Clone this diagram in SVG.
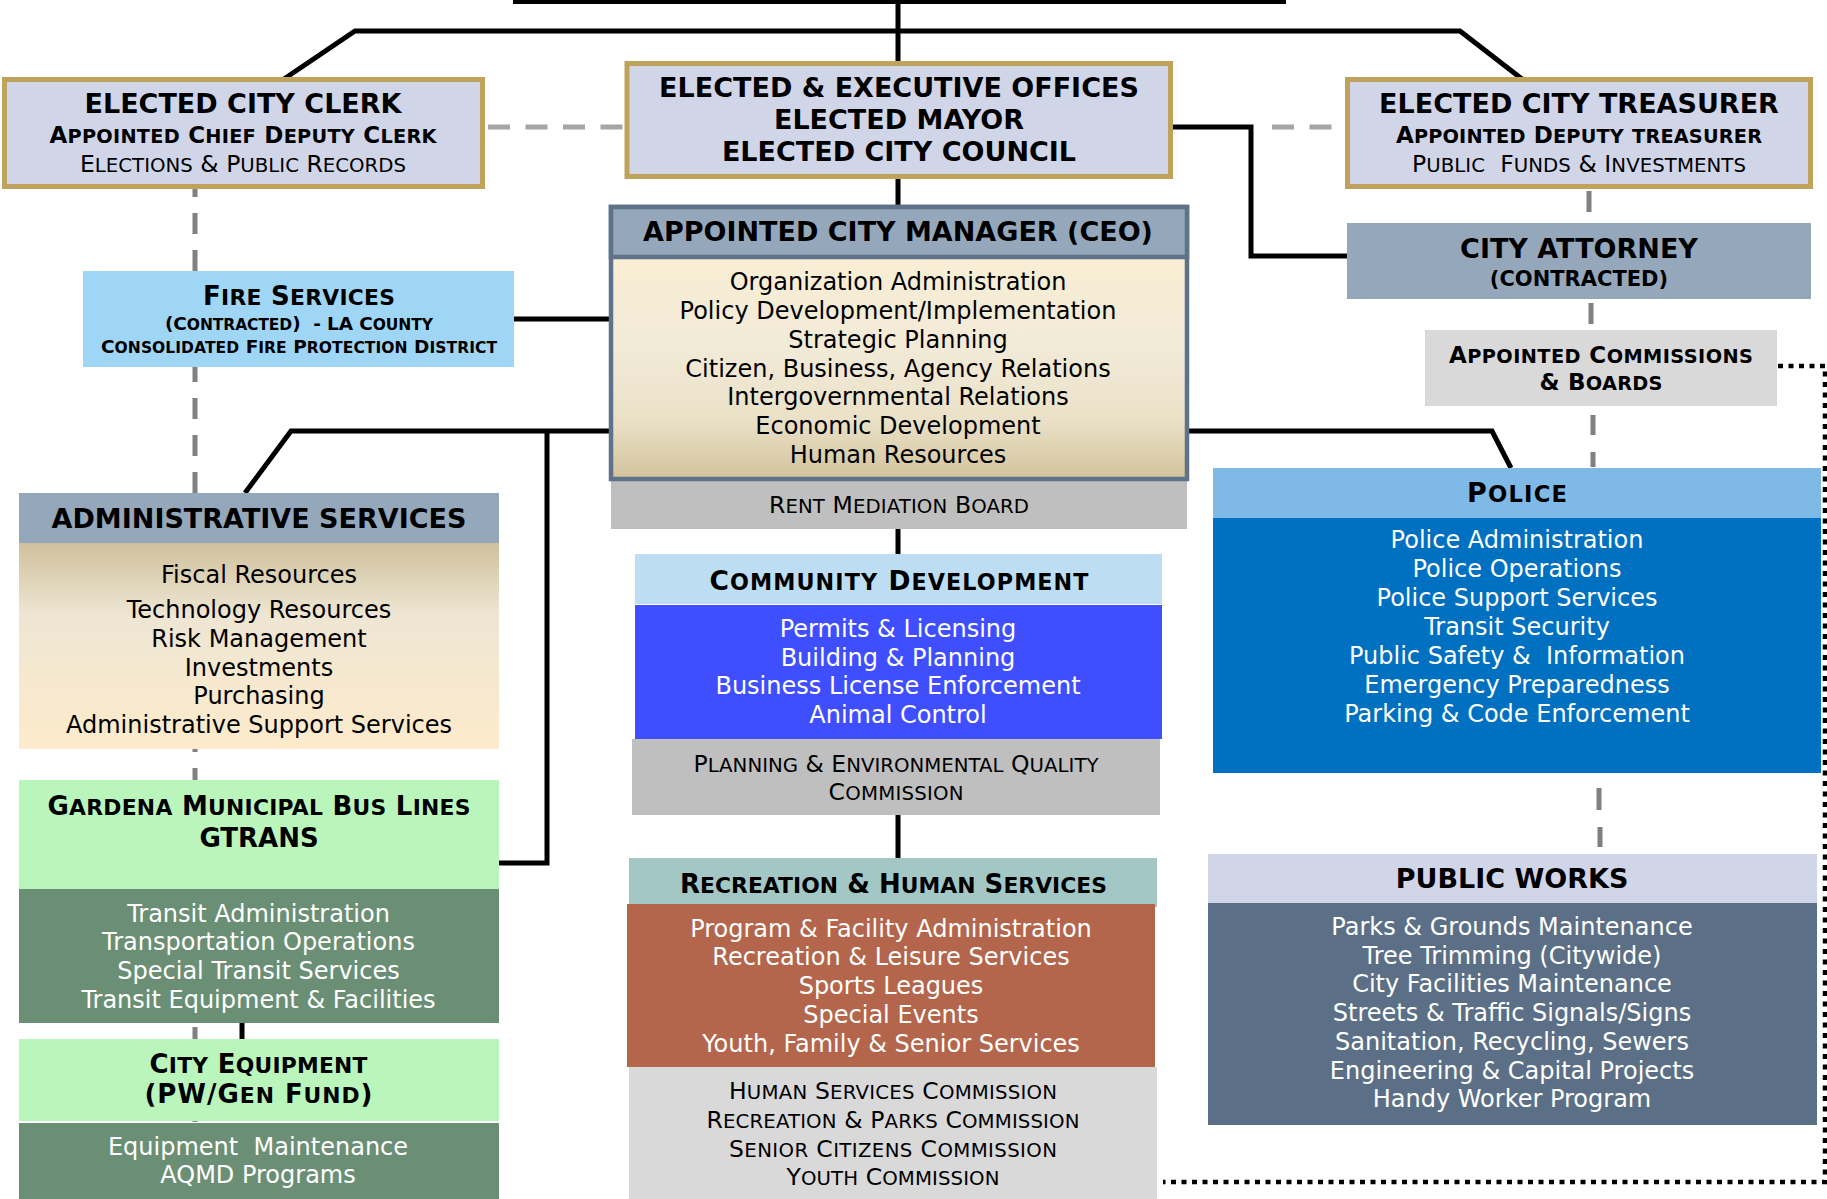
<svg xmlns="http://www.w3.org/2000/svg" width="1827" height="1199" viewBox="0 0 1827 1199">
<defs>
<linearGradient id="gCeo" x1="0" y1="0" x2="0" y2="1">
<stop offset="0" stop-color="#FDEFD2"/>
<stop offset="0.5" stop-color="#F2EBD8"/>
<stop offset="0.78" stop-color="#EAE1C8"/>
<stop offset="1" stop-color="#D3C39C"/>
</linearGradient>
<linearGradient id="gAdm" x1="0" y1="0" x2="0" y2="1">
<stop offset="0" stop-color="#CFC19D"/>
<stop offset="0.35" stop-color="#EEE6D3"/>
<stop offset="1" stop-color="#FDEBCB"/>
</linearGradient>
<style>
text{font-family:"DejaVu Sans",Verdana,sans-serif;text-anchor:middle;fill:#000}
.b{font-weight:bold}
.h{font-size:27px;font-weight:bold}
.i{font-size:24px}
.w{fill:#fff}
.s{font-size:0.84em}
.sb{font-size:23px;font-weight:bold}
.sr{font-size:23.5px}
.st{font-size:26px;font-weight:bold}
.k{fill:none;stroke:#000;stroke-width:5}
.gd{fill:none;stroke:#808080;stroke-width:5}
.gl{fill:none;stroke:#A6A6A6;stroke-width:5;stroke-dasharray:22 15.5}
.dot{fill:none;stroke:#000;stroke-width:4.5;stroke-dasharray:5 5.5}
.gold{stroke:#BFA35C;stroke-width:5}
</style>
</defs>
<rect width="1827" height="1199" fill="#fff"/>

<g id="connectors">
<path class="k" d="M513,1.5 H1286" stroke-width="4"/>
<path class="k" d="M898,0 V63"/>
<path class="k" d="M284,79 L355,31 H1460 L1522,79"/>
<path class="k" d="M898,177 V207"/>
<path class="k" d="M514,319 H611"/>
<path class="k" d="M1173,127 H1251 V256 H1347"/>
<path class="k" d="M245,493 L291,431 H1492 L1511,468"/>
<path class="k" d="M547,431 V863 H499"/>
<path class="k" d="M898,470 V554"/>
<path class="k" d="M898,815 V858"/>
<path class="k" d="M242,1023 V1039"/>
<path class="gl" d="M488,127 H624"/>
<path class="gl" d="M1272,127 H1345"/>
<path class="gd" d="M195,176 V1199" stroke-dasharray="21 16"/>
<path class="gd" d="M1589,191 V212 M1591,303 V324 M1593,415 V435 M1593,452 V467 M1599,788 V810 M1600,827 V847"/>
<path class="dot" d="M1778,366 H1825 V1182 H1163"/>
</g>

<g id="clerk">
<rect x="4.5" y="79.5" width="478" height="107" fill="#D0D5E8" class="gold"/>
<text x="243" y="113" class="h">ELECTED CITY CLERK</text>
<text x="243" y="143" class="sb" textLength="387" lengthAdjust="spacing">A<tspan class="s">PPOINTED</tspan> C<tspan class="s">HIEF</tspan> D<tspan class="s">EPUTY</tspan> C<tspan class="s">LERK</tspan></text>
<text x="243" y="172" class="sr" textLength="326" lengthAdjust="spacing">E<tspan class="s">LECTIONS</tspan> &amp; P<tspan class="s">UBLIC</tspan> R<tspan class="s">ECORDS</tspan></text>
</g>

<g id="executive">
<rect x="627" y="63.5" width="543.5" height="113" fill="#D0D5E8" class="gold"/>
<text x="899" y="97" class="h">ELECTED &amp; EXECUTIVE OFFICES</text>
<text x="899" y="129" class="h">ELECTED MAYOR</text>
<text x="899" y="161" class="h">ELECTED CITY COUNCIL</text>
</g>

<g id="treasurer">
<rect x="1347.5" y="79.5" width="463" height="107" fill="#D0D5E8" class="gold"/>
<text x="1579" y="113" class="h">ELECTED CITY TREASURER</text>
<text x="1579" y="143" class="sb" textLength="366" lengthAdjust="spacing">A<tspan class="s">PPOINTED</tspan> D<tspan class="s">EPUTY</tspan> <tspan class="s">TREASURER</tspan></text>
<text x="1579" y="172" class="sr" textLength="334" lengthAdjust="spacing" xml:space="preserve">P<tspan class="s">UBLIC</tspan>  F<tspan class="s">UNDS</tspan> &amp; I<tspan class="s">NVESTMENTS</tspan></text>
</g>

<g id="rent-mediation-board">
<rect x="611" y="470" width="576" height="59" fill="#BFBFBF"/>
<text x="899" y="513" class="sr" textLength="260" lengthAdjust="spacing">R<tspan class="s">ENT</tspan> M<tspan class="s">EDIATION</tspan> B<tspan class="s">OARD</tspan></text>
</g>

<g id="city-manager">
<rect x="611" y="207" width="576" height="272" fill="url(#gCeo)" stroke="#5E7289" stroke-width="4.5"/>
<rect x="611" y="207" width="576" height="50" fill="#95A8BB" stroke="#5E7289" stroke-width="4.5"/>
<text x="898" y="241" class="h">APPOINTED CITY MANAGER (CEO)</text>
<text x="898" y="290" class="i">Organization Administration</text>
<text x="898" y="319" class="i">Policy Development/Implementation</text>
<text x="898" y="348" class="i">Strategic Planning</text>
<text x="898" y="377" class="i">Citizen, Business, Agency Relations</text>
<text x="898" y="405" class="i">Intergovernmental Relations</text>
<text x="898" y="434" class="i">Economic Development</text>
<text x="898" y="463" class="i">Human Resources</text>
</g>

<g id="fire-services">
<rect x="83" y="271" width="431" height="96" fill="#A0D6F5"/>
<text x="299" y="305" class="st" textLength="192" lengthAdjust="spacing">F<tspan class="s">IRE</tspan> S<tspan class="s">ERVICES</tspan></text>
<text x="299" y="330" class="b" font-size="18.5" textLength="268" lengthAdjust="spacing" xml:space="preserve">(C<tspan class="s">ONTRACTED</tspan>)  - LA C<tspan class="s">OUNTY</tspan></text>
<text x="299" y="353" class="b" font-size="18.5" textLength="396" lengthAdjust="spacing">C<tspan class="s">ONSOLIDATED</tspan> F<tspan class="s">IRE</tspan> P<tspan class="s">ROTECTION</tspan> D<tspan class="s">ISTRICT</tspan></text>
</g>

<g id="city-attorney">
<rect x="1347" y="223" width="464" height="76" fill="#95A8BB"/>
<text x="1579" y="258" class="h">CITY ATTORNEY</text>
<text x="1579" y="286" class="b" font-size="21">(CONTRACTED)</text>
</g>

<g id="commissions-boards">
<rect x="1425" y="330" width="352" height="76" fill="#D9D9D9"/>
<text x="1601" y="363" class="sb" textLength="304" lengthAdjust="spacing">A<tspan class="s">PPOINTED</tspan> C<tspan class="s">OMMISSIONS</tspan></text>
<text x="1601" y="390" class="sb" textLength="123" lengthAdjust="spacing">&amp; B<tspan class="s">OARDS</tspan></text>
</g>

<g id="administrative-services">
<rect x="19" y="493" width="480" height="50" fill="#95A8BB"/>
<rect x="19" y="543" width="480" height="206" fill="url(#gAdm)"/>
<text x="259" y="528" class="h">ADMINISTRATIVE SERVICES</text>
<text x="259" y="583" class="i">Fiscal Resources</text>
<text x="259" y="618" class="i">Technology Resources</text>
<text x="259" y="647" class="i">Risk Management</text>
<text x="259" y="676" class="i">Investments</text>
<text x="259" y="704" class="i">Purchasing</text>
<text x="259" y="733" class="i">Administrative Support Services</text>
</g>

<g id="gtrans">
<rect x="19" y="780" width="480" height="109" fill="#BAF5BB"/>
<rect x="19" y="889" width="480" height="134" fill="#6B8F74"/>
<text x="259" y="815" class="st" textLength="423" lengthAdjust="spacing">G<tspan class="s">ARDENA</tspan> M<tspan class="s">UNICIPAL</tspan> B<tspan class="s">US</tspan> L<tspan class="s">INES</tspan></text>
<text x="259" y="847" class="b" font-size="26">GTRANS</text>
<text x="258.5" y="922" class="i w">Transit Administration</text>
<text x="258.5" y="950" class="i w">Transportation Operations</text>
<text x="258.5" y="979" class="i w">Special Transit Services</text>
<text x="258.5" y="1008" class="i w">Transit Equipment &amp; Facilities</text>
</g>

<g id="city-equipment">
<rect x="19" y="1039" width="480" height="82" fill="#BAF5BB"/>
<rect x="19" y="1123" width="480" height="76" fill="#6B8F74"/>
<text x="258.5" y="1073" class="st" textLength="218" lengthAdjust="spacing">C<tspan class="s">ITY</tspan> E<tspan class="s">QUIPMENT</tspan></text>
<text x="258.5" y="1103" class="st" textLength="228" lengthAdjust="spacing">(PW/G<tspan class="s">EN</tspan> F<tspan class="s">UND</tspan>)</text>
<text x="258" y="1155" class="i w" xml:space="preserve">Equipment  Maintenance</text>
<text x="258" y="1183" class="i w">AQMD Programs</text>
</g>

<g id="community-development">
<rect x="635" y="554" width="527" height="50" fill="#BDDDF2"/>
<rect x="635" y="605" width="527" height="134" fill="#3F4FFF"/>
<text x="899" y="590" class="b" font-size="26.5" textLength="379" lengthAdjust="spacing">C<tspan class="s">OMMUNITY</tspan> D<tspan class="s">EVELOPMENT</tspan></text>
<text x="898" y="637" class="i w">Permits &amp; Licensing</text>
<text x="898" y="666" class="i w">Building &amp; Planning</text>
<text x="898" y="694" class="i w">Business License Enforcement</text>
<text x="898" y="723" class="i w">Animal Control</text>
</g>

<g id="planning-commission">
<rect x="632" y="739" width="528" height="76" fill="#BFBFBF"/>
<text x="896" y="772" class="sr" textLength="405" lengthAdjust="spacing">P<tspan class="s">LANNING</tspan> &amp; E<tspan class="s">NVIRONMENTAL</tspan> Q<tspan class="s">UALITY</tspan></text>
<text x="896" y="800" class="sr" textLength="135" lengthAdjust="spacing">C<tspan class="s">OMMISSION</tspan></text>
</g>

<g id="recreation-human-services">
<rect x="629" y="858" width="528" height="49" fill="#A2C7C4"/>
<rect x="627" y="904" width="528" height="163" fill="#B3664B"/>
<rect x="629" y="1067" width="528" height="132" fill="#D9D9D9"/>
<text x="893.5" y="893" class="st" textLength="427" lengthAdjust="spacing">R<tspan class="s">ECREATION</tspan> &amp; H<tspan class="s">UMAN</tspan> S<tspan class="s">ERVICES</tspan></text>
<text x="891" y="937" class="i w">Program &amp; Facility Administration</text>
<text x="891" y="965" class="i w">Recreation &amp; Leisure Services</text>
<text x="891" y="994" class="i w">Sports Leagues</text>
<text x="891" y="1023" class="i w">Special Events</text>
<text x="891" y="1052" class="i w">Youth, Family &amp; Senior Services</text>
<text x="893" y="1099" class="sr" textLength="328" lengthAdjust="spacing">H<tspan class="s">UMAN</tspan> S<tspan class="s">ERVICES</tspan> C<tspan class="s">OMMISSION</tspan></text>
<text x="893" y="1128" class="sr" textLength="373" lengthAdjust="spacing">R<tspan class="s">ECREATION</tspan> &amp; P<tspan class="s">ARKS</tspan> C<tspan class="s">OMMISSION</tspan></text>
<text x="893" y="1157" class="sr" textLength="328" lengthAdjust="spacing">S<tspan class="s">ENIOR</tspan> C<tspan class="s">ITIZENS</tspan> C<tspan class="s">OMMISSION</tspan></text>
<text x="893" y="1185" class="sr" textLength="213" lengthAdjust="spacing">Y<tspan class="s">OUTH</tspan> C<tspan class="s">OMMISSION</tspan></text>
</g>

<g id="police">
<rect x="1213" y="468" width="608" height="50" fill="#7FBAE6"/>
<rect x="1213" y="518" width="608" height="255" fill="#0070C0"/>
<text x="1517" y="502" class="b" font-size="27" textLength="100" lengthAdjust="spacing">P<tspan class="s">OLICE</tspan></text>
<text x="1517" y="548" class="i w">Police Administration</text>
<text x="1517" y="577" class="i w">Police Operations</text>
<text x="1517" y="606" class="i w">Police Support Services</text>
<text x="1517" y="635" class="i w">Transit Security</text>
<text x="1517" y="664" class="i w" xml:space="preserve">Public Safety &amp;  Information</text>
<text x="1517" y="693" class="i w">Emergency Preparedness</text>
<text x="1517" y="722" class="i w">Parking &amp; Code Enforcement</text>
</g>

<g id="public-works">
<rect x="1208" y="854" width="609" height="49" fill="#D0D5E8"/>
<rect x="1208" y="903" width="609" height="222" fill="#5B7086"/>
<text x="1512" y="888" class="h">PUBLIC WORKS</text>
<text x="1512" y="935" class="i w">Parks &amp; Grounds Maintenance</text>
<text x="1512" y="964" class="i w">Tree Trimming (Citywide)</text>
<text x="1512" y="992" class="i w">City Facilities Maintenance</text>
<text x="1512" y="1021" class="i w">Streets &amp; Traffic Signals/Signs</text>
<text x="1512" y="1050" class="i w">Sanitation, Recycling, Sewers</text>
<text x="1512" y="1079" class="i w">Engineering &amp; Capital Projects</text>
<text x="1512" y="1107" class="i w">Handy Worker Program</text>
</g>
</svg>
